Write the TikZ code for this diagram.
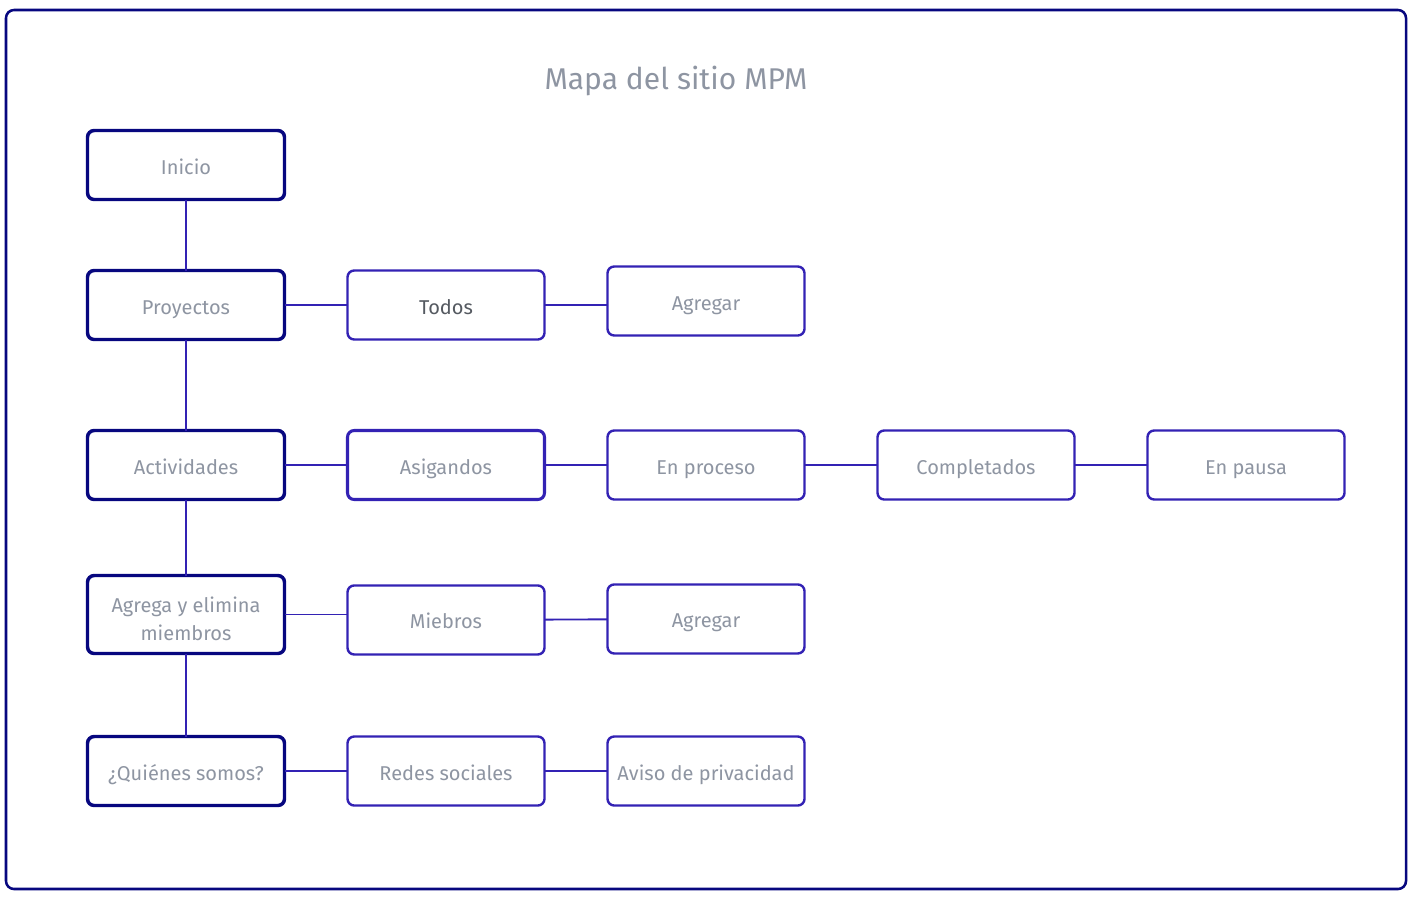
\documentclass[tikz,border=0pt]{standalone}
\usepackage{fontspec}
\setmainfont{Fira Sans}
\usetikzlibrary{positioning}
\definecolor{navy}{HTML}{07077F}
\definecolor{violet}{HTML}{3322B4}
\definecolor{txt}{HTML}{8E95A2}
\newcommand\boxstrut{\rule[-3.5pt]{0pt}{20.5pt}}
\tikzset{
  main/.style={draw=navy, line width=2.6pt, rounded corners=5pt, minimum width=147.75pt, minimum height=51.75pt, outer sep=0pt, align=center, text=txt, inner sep=2pt, fill=white, execute at begin node=\boxstrut},
  sub/.style={draw=violet, line width=1.8pt, rounded corners=5pt, minimum width=147.75pt, minimum height=51.75pt, outer sep=0pt, align=center, text=txt, inner sep=2pt, fill=white, execute at begin node=\boxstrut},
  lnk/.style={draw=violet, line width=1.4pt}
}

\begin{document}
\begin{tikzpicture}[x=0.75pt, y=-0.75pt, font=\fontsize{15}{21}\selectfont]
\useasboundingbox (0,0) rectangle (1413,897);
\draw[navy, line width=1.9pt, rounded corners=6pt] (6,10) rectangle (1406,889);
\node[text=txt, font=\fontsize{22.5}{26}\selectfont] (title) at (676,81) {Mapa del sitio MPM};
% left column
\node[main] (ini) at (186,165) {Inicio};
\node[main, below=53.25pt of ini] (pro) {Proyectos};
\node[main, below=68.25pt of pro] (act) {Actividades};
\node[main, below=57pt of act, minimum height=58.5pt, text height=40pt, text depth=1.7pt] (agr) {Agrega y elimina\\miembros};
\node[main, below=62.25pt of agr] (qui) {¿Quiénes somos?};
% Proyectos
\node[sub, right=47.25pt of pro, text=txt!60!black] (tod) {Todos};
\node[sub, right=47.25pt of tod, yshift=3pt] (agra) {Agregar};
% Actividades
\node[sub, right=47.25pt of act, line width=2.3pt] (asi) {Asigandos};
\node[sub, right=47.25pt of asi] (proc) {En proceso};
\node[sub, right=54.75pt of proc] (comp) {Completados};
\node[sub, right=54.75pt of comp] (pau) {En pausa};
% Miembros
\node[sub, right=47.25pt of agr, yshift=-4.1pt] (mie) {Miebros};
\node[sub, right=47.25pt of mie, yshift=0.75pt] (agrb) {Agregar};
% Quienes somos
\node[sub, right=47.25pt of qui] (red) {Redes sociales};
\node[sub, right=47.25pt of red] (avi) {Aviso de privacidad};
\draw[lnk] (ini) -- (pro);
\draw[lnk] (pro) -- (act);
\draw[lnk] (act) -- (agr);
\draw[lnk] (agr) -- (qui);
\draw[lnk] (pro) -- (tod);
\draw[lnk] (tod.east) -- (tod.east -| agra.west);
\draw[lnk] (act) -- (asi);
\draw[lnk] (asi) -- (proc);
\draw[lnk] (proc) -- (comp);
\draw[lnk] (comp) -- (pau);
\draw[lnk] (agr.east) -- (agr.east -| mie.west);
\draw[lnk] (mie) -- (agrb);
\draw[lnk] (qui) -- (red);
\draw[lnk] (red) -- (avi);
\end{tikzpicture}
\end{document}
